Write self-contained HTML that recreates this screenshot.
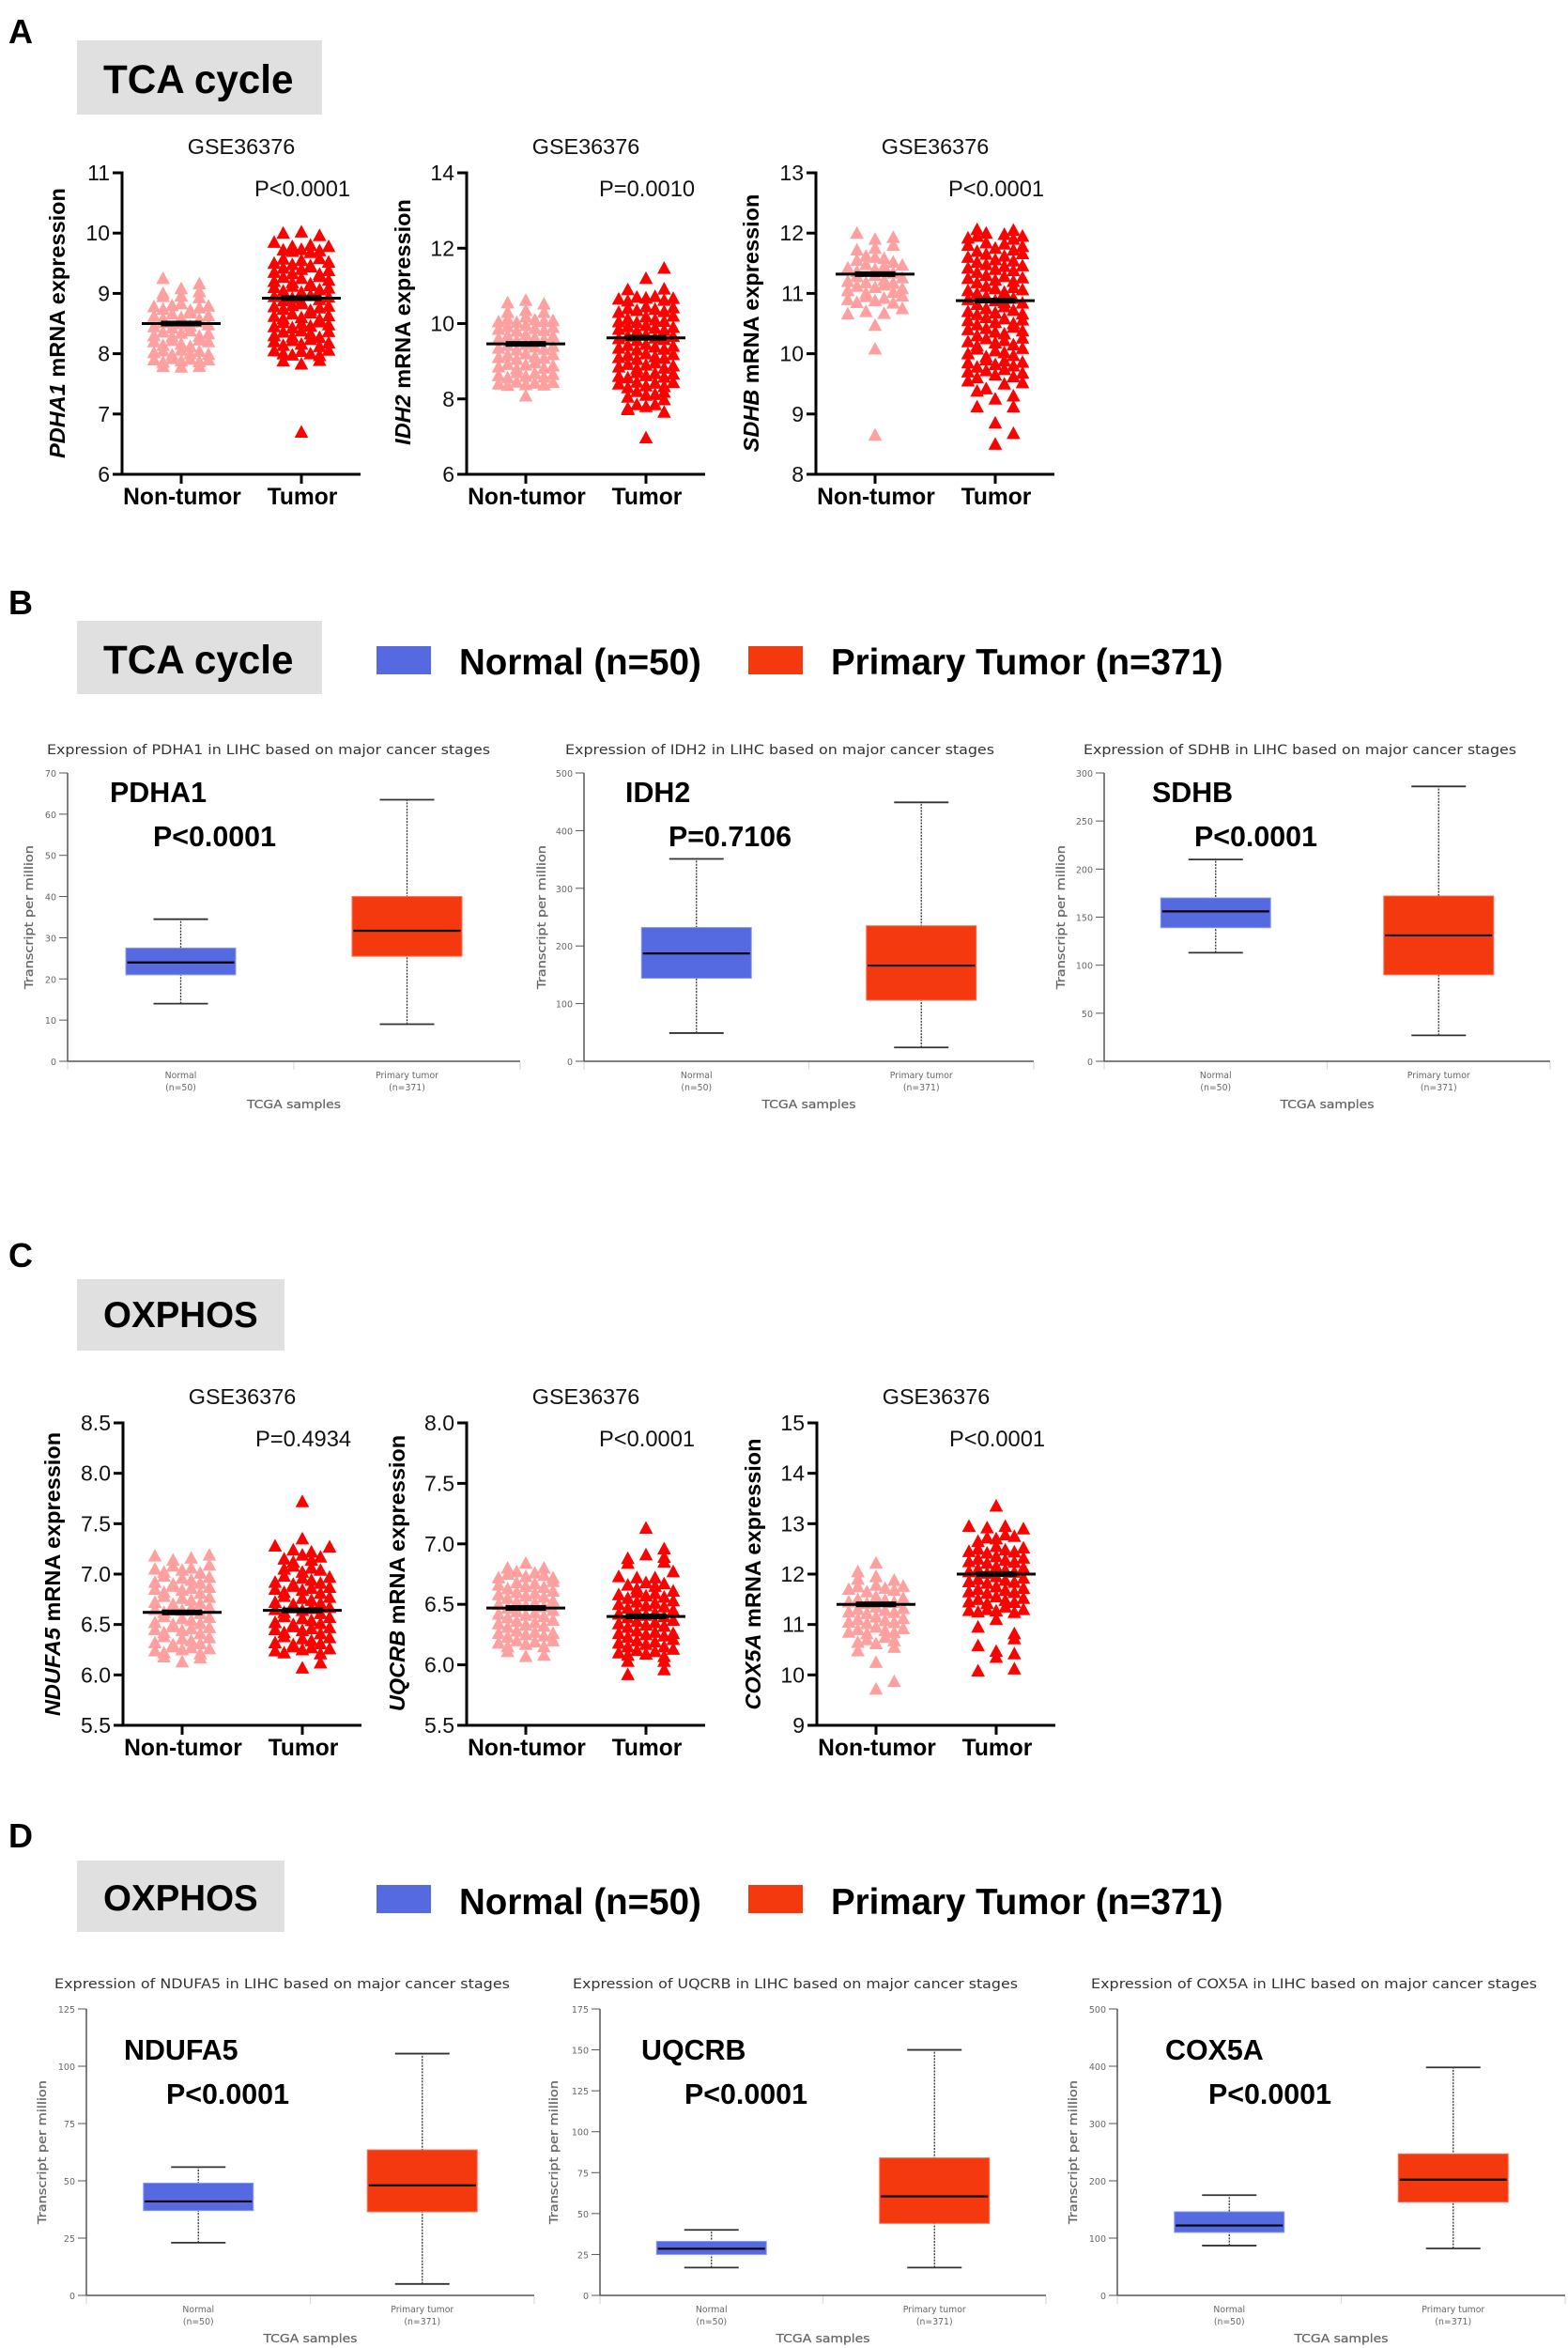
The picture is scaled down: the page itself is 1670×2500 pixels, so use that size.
<!DOCTYPE html>
<html lang="en"><head><meta charset="utf-8"><title>TCA cycle and OXPHOS expression</title>
<style>
html,body{margin:0;padding:0;background:#fff}
svg{display:block}
text{font-family:"Liberation Sans",Arial,sans-serif}
.dj{font-family:"DejaVu Sans",sans-serif}
</style></head><body>
<svg id="fig" xmlns="http://www.w3.org/2000/svg" width="1670" height="2500" viewBox="0 0 1670 2500">
<rect width="1670" height="2500" fill="#fff"/>
<g font-weight="700" font-size="36" fill="#000">
<text x="9" y="46">A</text>
<text x="9" y="654">B</text>
<text x="9" y="1349">C</text>
<text x="9" y="1967">D</text>
</g>
<g fill="#e0e0e0">
<rect x="82" y="43" width="261" height="79"/>
<rect x="82" y="661" width="261" height="78"/>
<rect x="82" y="1362" width="221" height="76"/>
<rect x="82" y="1981" width="221" height="76"/>
</g>
<g font-weight="700" font-size="42.2" fill="#000">
<text x="110" y="99">TCA cycle</text>
<text x="110" y="717">TCA cycle</text>
<text x="110" y="1413" font-size="38.5">OXPHOS</text>
<text x="110" y="2034" font-size="38.5">OXPHOS</text>
<text x="489" y="718" font-size="38.5">Normal (n=50)</text>
<text x="885" y="718" font-size="38.5">Primary Tumor (n=371)</text>
<text x="489" y="2038" font-size="38.5">Normal (n=50)</text>
<text x="885" y="2038" font-size="38.5">Primary Tumor (n=371)</text>
</g>
<rect x="401" y="688" width="58" height="30" fill="#5569E1"/>
<rect x="797" y="688" width="58" height="30" fill="#F4390F"/>
<rect x="401" y="2007" width="58" height="30" fill="#5569E1"/>
<rect x="797" y="2007" width="58" height="30" fill="#F4390F"/>
<g id="charts"></g>
</svg>
<script>
/* ---------- scatter data: expression values ---------- */
const pdha1Normal=[7.79,7.78,7.79,
7.9,7.86,7.92,7.88,7.91,7.87,7.9,
8.02,8.05,7.98,8.06,8.0,8.04,7.99,
8.2,8.14,8.22,8.16,8.12,8.23,8.2,
8.3,8.36,8.28,8.34,8.38,8.29,8.33,
8.45,8.52,8.43,8.5,8.46,8.53,8.48,
8.62,8.58,8.66,8.6,8.68,8.57,8.63,
8.78,8.74,8.8,8.83,8.72,8.76,8.79,
8.95,8.96,8.93,9.0,9.08,9.03,9.25,9.16];
const pdha1Tumor=[6.7,
7.88,7.83,7.89,
8.05,8.0,7.98,8.04,8.0,7.97,8.06,
8.2,8.14,8.22,8.16,8.24,8.12,8.18,
8.3,8.36,8.28,8.38,8.33,8.27,8.37,
8.45,8.52,8.43,8.5,8.46,8.53,8.48,
8.62,8.58,8.66,8.6,8.68,8.57,8.63,
8.78,8.74,8.8,8.83,8.72,8.76,8.79,
8.95,8.88,8.92,8.86,8.97,8.9,8.94,
9.1,9.04,9.12,9.02,9.13,9.06,9.09,
9.2,9.27,9.18,9.25,9.16,9.28,9.22,
9.35,9.42,9.33,9.4,9.44,9.32,9.38,
9.5,9.57,9.48,9.55,9.46,9.58,9.52,
9.72,9.7,9.73,9.68,9.71,
9.85,9.78,9.8,9.78,
10.0,10.02,9.96];
const idh2Normal=[8.08,
8.4,8.36,8.45,8.38,8.42,8.37,8.44,
8.62,8.56,8.7,8.6,8.68,8.58,8.65,
8.85,8.92,8.8,8.9,8.96,8.82,8.88,
9.1,9.16,9.05,9.2,9.12,9.08,9.18,
9.35,9.42,9.3,9.45,9.38,9.32,9.4,
9.6,9.67,9.55,9.7,9.62,9.58,9.66,
9.85,9.92,9.8,9.95,9.88,9.82,9.9,
10.05,10.12,10.03,10.18,10.1,10.06,10.08,
10.3,10.35,10.3,10.55,10.62,10.52];
const idh2Tumor=[6.97,
7.72,7.65,7.75,
7.85,7.8,7.85,7.98,
8.05,8.2,8.1,8.12,8.18,
8.4,8.3,8.45,8.35,8.42,8.33,8.44,
8.6,8.56,8.7,8.62,8.68,8.58,8.66,
8.85,8.92,8.8,8.9,8.96,8.82,8.88,
9.1,9.16,9.05,9.2,9.12,9.08,9.18,
9.35,9.42,9.3,9.45,9.38,9.32,9.4,
9.6,9.67,9.55,9.7,9.62,9.58,9.66,
9.85,9.92,9.8,9.95,9.88,9.82,9.9,
10.05,10.12,10.03,10.18,10.1,10.06,10.2,
10.3,10.4,10.35,10.45,10.38,10.32,10.42,
10.65,10.6,10.7,10.68,10.72,10.62,10.67,
10.9,10.92,11.2,11.47];
const sdhbNormal=[8.65,10.08,10.47,
10.66,10.7,10.67,10.75,
10.9,10.85,10.95,10.88,10.92,10.84,10.96,
11.05,11.12,11.0,11.1,11.14,11.02,11.08,
11.2,11.28,11.18,11.3,11.22,11.17,11.26,
11.42,11.36,11.48,11.4,11.45,11.34,11.47,
11.55,11.62,11.6,11.58,11.52,
11.72,11.75,11.8,
12.0,11.9,11.93];
const sdhbTumor=[8.5,8.68,8.85,
9.12,9.12,
9.38,9.25,9.3,
9.55,9.42,9.5,9.52,
9.7,9.6,9.72,9.65,9.74,9.62,9.68,
9.85,9.78,9.9,9.82,9.88,9.8,9.86,
10.0,10.08,9.95,10.05,10.02,9.97,10.09,
10.2,10.13,10.25,10.18,10.22,10.15,10.26,
10.4,10.3,10.42,10.36,10.33,10.44,10.38,
10.55,10.48,10.6,10.52,10.58,10.5,10.56,
10.7,10.65,10.75,10.68,10.78,10.72,10.66,
10.9,10.82,10.95,10.88,10.85,10.92,10.84,
11.05,11.0,11.12,11.08,11.02,11.1,11.06,
11.25,11.18,11.3,11.22,11.28,11.2,11.26,
11.42,11.35,11.48,11.4,11.45,11.38,11.46,
11.6,11.52,11.65,11.56,11.62,11.54,11.66,
11.8,11.7,11.84,11.75,11.82,11.72,11.78,
11.92,11.95,12.0,11.98,11.9,11.95,
12.06,12.05];
const ndufa5Normal=[6.18,6.13,6.17,
6.24,6.22,6.28,6.25,6.27,6.21,6.26,
6.32,6.38,6.3,6.36,6.34,6.31,6.37,
6.45,6.42,6.48,6.44,6.46,6.41,6.47,
6.52,6.58,6.5,6.56,6.54,6.51,6.57,
6.65,6.62,6.68,6.64,6.66,6.61,6.67,
6.72,6.78,6.7,6.76,6.74,6.71,6.77,
6.85,6.82,6.88,6.84,6.86,6.81,6.87,
6.92,6.98,6.9,6.96,6.94,6.91,6.97,
7.05,7.02,7.08,7.04,7.06,7.01,7.09,
7.18,7.14,7.16,7.19];
const ndufa5Tumor=[6.07,6.12,
6.24,6.22,6.28,6.25,6.27,6.21,6.26,
6.32,6.38,6.3,6.36,6.34,6.31,6.37,
6.45,6.42,6.48,6.44,6.46,6.41,6.47,
6.52,6.58,6.5,6.56,6.54,6.51,6.57,
6.65,6.62,6.68,6.64,6.66,6.61,6.67,
6.72,6.78,6.7,6.76,6.74,6.71,6.77,
6.85,6.82,6.88,6.84,6.86,6.81,6.87,
6.92,6.98,6.9,6.96,6.94,6.91,6.97,
7.05,7.08,7.02,7.06,7.04,
7.15,7.12,7.19,7.14,7.17,
7.28,7.24,7.22,7.27,
7.35,7.72];
const uqcrbNormal=[6.11,6.07,6.08,
6.18,6.15,6.2,6.17,6.19,6.15,6.2,
6.26,6.23,6.28,6.25,6.27,6.24,6.26,
6.34,6.31,6.36,6.33,6.35,6.32,6.37,
6.42,6.39,6.44,6.41,6.43,6.4,6.45,
6.5,6.47,6.52,6.49,6.51,6.48,6.53,
6.58,6.55,6.6,6.57,6.59,6.56,6.61,
6.66,6.63,6.68,6.65,6.67,6.64,6.69,
6.72,6.75,6.77,6.73,6.76,6.74,6.72,
6.8,6.84,6.8];
const uqcrbTumor=[5.92,5.96,
6.03,6.03,
6.1,6.08,6.12,6.09,6.11,6.07,6.13,
6.18,6.15,6.2,6.17,6.19,6.15,6.21,
6.26,6.23,6.28,6.25,6.27,6.24,6.26,
6.34,6.31,6.36,6.33,6.35,6.32,6.37,
6.42,6.39,6.44,6.41,6.43,6.4,6.45,
6.5,6.47,6.52,6.49,6.51,6.48,6.53,
6.58,6.55,6.6,6.57,6.59,6.56,6.61,
6.66,6.63,6.68,6.65,6.67,
6.73,6.72,6.72,6.77,
6.84,6.85,
6.88,6.91,6.89,
6.96,7.13];
const cox5aNormal=[9.72,9.87,10.25,
10.48,10.55,
10.65,10.7,10.62,10.75,10.68,
10.85,10.9,10.82,10.95,10.88,10.84,10.92,
11.05,11.1,11.02,11.15,11.08,11.04,11.12,
11.25,11.3,11.22,11.35,11.28,11.24,11.32,
11.45,11.5,11.42,11.55,11.48,11.44,11.52,
11.7,11.75,11.65,11.78,11.72,11.68,11.76,
11.9,11.95,11.88,
12.05,12.22];
const cox5aTumor=[10.08,10.12,10.35,
10.58,10.47,10.42,
10.72,
10.95,10.82,
11.1,
11.28,11.25,11.3,11.27,11.35,11.24,11.3,
11.45,11.5,11.42,11.55,11.48,11.44,11.52,
11.65,11.7,11.62,11.75,11.68,11.64,11.72,
11.85,11.9,11.82,11.95,11.88,11.84,11.92,
12.05,12.1,12.02,12.15,12.08,12.04,12.12,
12.25,12.3,12.22,12.35,12.28,12.24,12.32,
12.45,12.5,12.42,12.55,12.48,12.44,12.52,
12.65,12.72,12.7,12.78,12.75,
12.95,12.92,12.95,12.9,
13.35];
const scatterMeans={pdha1:[8.5,8.92],idh2:[9.46,9.62],sdhb:[11.32,10.88],ndufa5:[6.62,6.64],uqcrb:[6.47,6.4],cox5a:[11.4,12.0]};
const pdha1Ticks=[6,7,8,9,10,11];
const idh2Ticks=[6,8,10,12,14];
const sdhbTicks=[8,9,10,11,12,13];
const ndufa5Ticks=["5.5","6.0","6.5","7.0","7.5","8.0","8.5"];
const uqcrbTicks=["5.5","6.0","6.5","7.0","7.5","8.0"];
const cox5aTicks=[9,10,11,12,13,14,15];
const scatterCategories=["Non-tumor","Tumor"];

/* ---------- box data: [low whisker, Q1, median, Q3, high whisker] ---------- */
const boxPdha1Normal=[14,21,24,27.5,34.5];
const boxPdha1Tumor=[9,25.5,31.7,40,63.5];
const boxIdh2Normal=[49,144,187,232,351];
const boxIdh2Tumor=[24,106,166,235,449];
const boxSdhbNormal=[113,139,156,170,210];
const boxSdhbTumor=[27,90,131,172,286];
const boxNdufa5Normal=[23,37,41,49,56];
const boxNdufa5Tumor=[5,36.5,48,63.5,105.5];
const boxUqcrbNormal=[17,25,28.5,33,40];
const boxUqcrbTumor=[17,44,60.5,84,150];
const boxCox5aNormal=[87,110,122,146,175];
const boxCox5aTumor=[82,163,202,247,398];
const boxPdha1Ticks=[0,10,20,30,40,50,60,70];
const boxIdh2Ticks=[0,100,200,300,400,500];
const boxSdhbTicks=[0,50,100,150,200,250,300];
const boxNdufa5Ticks=[0,25,50,75,100,125];
const boxUqcrbTicks=[0,25,50,75,100,125,150,175];
const boxCox5aTicks=[0,100,200,300,400,500];

const NS='http://www.w3.org/2000/svg';
const root=document.getElementById('charts');
function mk(parent,tag,attrs,txt){
  const e=document.createElementNS(NS,tag);
  for(const k in attrs)e.setAttribute(k,attrs[k]);
  if(txt!==undefined)e.textContent=txt;
  parent.appendChild(e);
  return e;
}
const columnPatterns={1:[0],2:[-2,2],3:[-2,0,2],4:[-3,-1,1,3],5:[-2,-1,0,1,2],6:[-3,-2,-1,1,2,3],7:[-3,-2,-1,0,1,2,3]};
const COL=9.67;

function swarm(values,lo,bin){
  const bins=new Map();
  values.forEach(v=>{const k=Math.floor((v-lo)/bin+1e-9);if(!bins.has(k))bins.set(k,[]);bins.get(k).push(v);});
  const keys=[...bins.keys()].sort((a,b)=>a-b);
  const out=[];let prev=null,flip=1;
  keys.forEach(k=>{
    const vs=bins.get(k);
    const pat=columnPatterns[Math.min(vs.length,7)];
    if(vs.length===1){
      let c=0;
      if(prev&&prev.cols.includes(0)&&k-prev.k<=1){c=2*flip;flip=-flip;}
      out.push({v:vs[0],c});
      prev={k,cols:[c]};
    }else{
      vs.forEach((v,i)=>out.push({v,c:pat[i%pat.length]}));
      prev={k,cols:pat};
    }
  });
  return out;
}

function scatterChart(o){
  const g=mk(root,'g',{});
  
  
  const yS=v=>o.bottom-(v-o.min)/(o.max-o.min)*(o.bottom-o.top);
  const xS=i=>o.axisX+63+i*128;
  const title=mk(g,'text',{x:o.axisX+127,y:o.top-20,'text-anchor':'middle','font-size':23.4,fill:'#111'},'GSE36376');
  
  
  const p=mk(g,'text',{x:o.axisX+192,y:o.top+25,'text-anchor':'middle','font-size':23.7,fill:'#111'},o.p);
  
  
  [[o.normal,'#FFA0A0',0],[o.tumor,'#FF0000',1]].forEach(([vals,col,i])=>{
    swarm(vals,o.min,o.bin).forEach(pt=>{
      const x=xS(i)+pt.c*COL,y=yS(pt.v);
      const t=mk(g,'polygon',{points:(x-7.3)+','+(y+6)+' '+(x+7.3)+','+(y+6)+' '+x+','+(y-7.5),fill:col});
      
      
    });
  });
  o.means.forEach((m,i)=>{
    const l=mk(g,'line',{x1:xS(i)-42,x2:xS(i)+42,y1:yS(m),y2:yS(m),stroke:'#000','stroke-width':3});
    
    
    const r=mk(g,'rect',{x:xS(i)-21.5,y:yS(m)-3,width:43,height:6,fill:'#000'});
    
    
  });
  const ya=mk(g,'line',{x1:o.axisX,x2:o.axisX,y1:o.top-1.5,y2:o.bottom+1.5,stroke:'#000','stroke-width':3});
  
  
  const xa=mk(g,'line',{x1:o.axisX,x2:o.axisX+254,y1:o.bottom,y2:o.bottom,stroke:'#000','stroke-width':3});
  
  
  o.ticks.forEach(tk=>{
    const y=yS(+tk);
    const l=mk(g,'line',{x1:o.axisX-10,x2:o.axisX,y1:y,y2:y,stroke:'#000','stroke-width':3});
    
    
    const t=mk(g,'text',{x:o.axisX-13,y:y+8,'text-anchor':'end','font-size':23,fill:'#111'},tk);
    
    
  });
  scatterCategories.forEach((c,i)=>{
    const l=mk(g,'line',{x1:xS(i),x2:xS(i),y1:o.bottom,y2:o.bottom+10,stroke:'#000','stroke-width':3});
    
    
    const t=mk(g,'text',{x:xS(i)+1,y:o.bottom+32,'text-anchor':'middle','font-size':24.6,'font-weight':700,fill:'#000'},c);
    
    
  });
  const yl=mk(g,'text',{transform:'translate('+o.ylX+','+o.ylY+') rotate(-90)','text-anchor':'middle','font-size':23.5,'font-weight':700,fill:'#000'});
  
  
  mk(yl,'tspan',{'font-style':'italic'},o.gene);
  mk(yl,'tspan',{},' mRNA expression');
}

function boxChart(o){
  const g=mk(root,'g',{});
  
  
  const yS=v=>o.bottom-v/o.max*(o.bottom-o.top);
  const W=o.endX-o.axisX;
  const xS=i=>o.axisX+W*(0.25+0.5*i);
  const title=mk(g,'text',{class:'dj',x:o.titleX,y:o.titleY,'font-size':14,fill:'#333',textLength:o.titleW,lengthAdjust:'spacingAndGlyphs'},'Expression of '+o.gene+' in LIHC based on major cancer stages');
  
  
  [[o.normal,'#5569E1','#8a9bee'],[o.tumor,'#F4390F','#ff6f55']].forEach(([d,col,edge],i)=>{
    const x=xS(i);
    const w=mk(g,'line',{x1:x,x2:x,y1:yS(d[0]),y2:yS(d[4]),stroke:'#333','stroke-width':1.3,'stroke-dasharray':'2 1.3'});
    
    
    [d[0],d[4]].forEach(v=>{
      const c=mk(g,'line',{x1:x-29,x2:x+29,y1:yS(v),y2:yS(v),stroke:'#333','stroke-width':1.8});
      
      
    });
    const r=mk(g,'rect',{x:x-58.5,y:yS(d[3]),width:117,height:yS(d[1])-yS(d[3]),fill:col,stroke:edge,'stroke-width':1});
    
    
    const m=mk(g,'line',{x1:x-57,x2:x+57,y1:yS(d[2]),y2:yS(d[2]),stroke:'#000','stroke-width':2.2});
    
    
  });
  const ya=mk(g,'line',{x1:o.axisX,x2:o.axisX,y1:o.top,y2:o.bottom,stroke:'#555','stroke-width':1.5});
  
  
  const xa=mk(g,'line',{x1:o.axisX,x2:o.endX,y1:o.bottom,y2:o.bottom,stroke:'#555','stroke-width':1.5});
  
  
  [0,0.5,1].forEach(f=>{
    const l=mk(g,'line',{x1:o.axisX+W*f,x2:o.axisX+W*f,y1:o.bottom+1,y2:o.bottom+9,stroke:'#cfdcf0','stroke-width':1.2});
    
    
  });
  o.ticks.forEach(tk=>{
    const y=yS(tk);
    const l=mk(g,'line',{x1:o.axisX-9,x2:o.axisX,y1:y,y2:y,stroke:'#555','stroke-width':1});
    
    
    const t=mk(g,'text',{class:'dj',x:o.axisX-12,y:y+4,'text-anchor':'end','font-size':9.5,fill:'#666'},tk);
    
    
  });
  [['Normal','(n=50)'],['Primary tumor','(n=371)']].forEach((lab,i)=>{
    lab.forEach((s,j)=>{
      const t=mk(g,'text',{class:'dj',x:xS(i),y:o.bottom+18+j*13,'text-anchor':'middle','font-size':9.3,fill:'#666'},s);
      
      
    });
  });
  const xt=mk(g,'text',{class:'dj',x:o.axisX+W/2,y:o.bottom+50,'text-anchor':'middle','font-size':12,'font-weight':400,fill:'#666',textLength:100,lengthAdjust:'spacingAndGlyphs',stroke:'#666','stroke-width':0.25},'TCGA samples');
  
  
  const yc=(o.top+o.bottom)/2;
  const yl=mk(g,'text',{class:'dj',transform:'translate('+o.ylX+','+yc+') rotate(-90)','text-anchor':'middle','font-size':12,fill:'#666',textLength:153,lengthAdjust:'spacingAndGlyphs',stroke:'#666','stroke-width':0.25},'Transcript per million');
  
  
  const n=mk(g,'text',{x:o.nameX,y:o.nameY,'font-size':30.4,'font-weight':700,fill:'#000'},o.gene);
  
  
  const p=mk(g,'text',{x:o.pX,y:o.nameY+47,'font-size':30.4,'font-weight':700,fill:'#000'},o.p);
  
  
}

scatterChart({id:'pdha1',gene:'PDHA1',p:'P<0.0001',axisX:130,top:184,bottom:505,min:6,max:11,bin:.15,ticks:pdha1Ticks,normal:pdha1Normal,tumor:pdha1Tumor,means:scatterMeans.pdha1,ylX:69,ylY:344});
scatterChart({id:'idh2',gene:'IDH2',p:'P=0.0010',axisX:497,top:184,bottom:505,min:6,max:14,bin:.25,ticks:idh2Ticks,normal:idh2Normal,tumor:idh2Tumor,means:scatterMeans.idh2,ylX:437,ylY:343});
scatterChart({id:'sdhb',gene:'SDHB',p:'P<0.0001',axisX:869,top:184,bottom:505,min:8,max:13,bin:.175,ticks:sdhbTicks,normal:sdhbNormal,tumor:sdhbTumor,means:scatterMeans.sdhb,ylX:808,ylY:344});
scatterChart({id:'ndufa5',gene:'NDUFA5',p:'P=0.4934',axisX:131,top:1515,bottom:1837,min:5.5,max:8.5,bin:.1,ticks:ndufa5Ticks,normal:ndufa5Normal,tumor:ndufa5Tumor,means:scatterMeans.ndufa5,ylX:64,ylY:1676});
scatterChart({id:'uqcrb',gene:'UQCRB',p:'P<0.0001',axisX:497,top:1515,bottom:1837,min:5.5,max:8,bin:.08,ticks:uqcrbTicks,normal:uqcrbNormal,tumor:uqcrbTumor,means:scatterMeans.uqcrb,ylX:431,ylY:1675});
scatterChart({id:'cox5a',gene:'COX5A',p:'P<0.0001',axisX:870,top:1515,bottom:1837,min:9,max:15,bin:.2,ticks:cox5aTicks,normal:cox5aNormal,tumor:cox5aTumor,means:scatterMeans.cox5a,ylX:810,ylY:1676});

boxChart({id:'box-pdha1',gene:'PDHA1',p:'P<0.0001',axisX:72,endX:554,top:823,bottom:1130,max:70,ticks:boxPdha1Ticks,normal:boxPdha1Normal,tumor:boxPdha1Tumor,titleX:50,titleW:472,titleY:803,ylX:35,nameX:117,nameY:854,pX:163});
boxChart({id:'box-idh2',gene:'IDH2',p:'P=0.7106',axisX:622,endX:1101,top:823,bottom:1130,max:500,ticks:boxIdh2Ticks,normal:boxIdh2Normal,tumor:boxIdh2Tumor,titleX:602,titleW:457,titleY:803,ylX:581,nameX:666,nameY:854,pX:712});
boxChart({id:'box-sdhb',gene:'SDHB',p:'P<0.0001',axisX:1176,endX:1651,top:823,bottom:1130,max:300,ticks:boxSdhbTicks,normal:boxSdhbNormal,tumor:boxSdhbTumor,titleX:1154,titleW:461,titleY:803,ylX:1134,nameX:1227,nameY:854,pX:1272});
boxChart({id:'box-ndufa5',gene:'NDUFA5',p:'P<0.0001',axisX:92,endX:569,top:2139,bottom:2444,max:125,ticks:boxNdufa5Ticks,normal:boxNdufa5Normal,tumor:boxNdufa5Tumor,titleX:58,titleW:485,titleY:2117,ylX:49,nameX:132,nameY:2193,pX:177});
boxChart({id:'box-uqcrb',gene:'UQCRB',p:'P<0.0001',axisX:639,endX:1114,top:2139,bottom:2444,max:175,ticks:boxUqcrbTicks,normal:boxUqcrbNormal,tumor:boxUqcrbTumor,titleX:610,titleW:474,titleY:2117,ylX:594,nameX:683,nameY:2193,pX:729});
boxChart({id:'box-cox5a',gene:'COX5A',p:'P<0.0001',axisX:1190,endX:1667,top:2139,bottom:2444,max:500,ticks:boxCox5aTicks,normal:boxCox5aNormal,tumor:boxCox5aTumor,titleX:1162,titleW:475,titleY:2117,ylX:1147,nameX:1241,nameY:2193,pX:1287});
</script>
</body></html>
